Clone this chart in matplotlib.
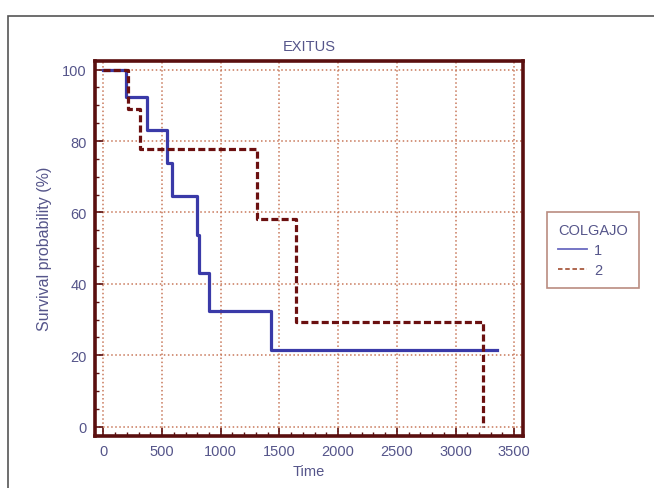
import matplotlib
matplotlib.use("Agg")
import matplotlib.pyplot as plt
from matplotlib.lines import Line2D
from matplotlib.ticker import MultipleLocator

plt.rcParams['font.family'] = ['Liberation Sans', 'DejaVu Sans']

# Kaplan-Meier steps
t_grp1 = [0, 191, 370, 545, 583, 795, 818, 903, 1426, 3351]
s_grp1 = [100, 92.3, 83.1, 73.8, 64.6, 53.8, 43.1, 32.3, 21.5, 21.5]
t_grp2 = [0, 213, 313, 1306, 1639, 3231]
s_grp2 = [100, 88.9, 77.8, 58.3, 29.2, 0]
group_names = ['1', '2']

xticks = [0, 500, 1000, 1500, 2000, 2500, 3000, 3500]
yticks = [0, 20, 40, 60, 80, 100]

txt_col = '#55558a'
frame_col = '#5a0f0f'
grid_col = '#c8785a'

fig = plt.figure(figsize=(6.54, 4.89), dpi=100)
# outer frame of the figure panel (partly cut off)
fig.add_artist(plt.Rectangle((8 / 654, -0.1), 1.2, 1 - 17 / 489 + 0.1,
                             transform=fig.transFigure, fill=False,
                             edgecolor='#555555', lw=1.2))

ax = fig.add_axes([0.1453, 0.1070, 0.6544, 0.7668])
ax.step(t_grp1, s_grp1, where='post', color='#3a3aa8', lw=2.3, zorder=3)
ax.step(t_grp2, s_grp2, where='post', color='#6b1010', lw=2.3,
        ls=(0, (2.2, 1.0)), zorder=4)

ax.set_xlim(-71, 3575)
ax.set_ylim(-2.5, 102.5)
ax.set_xticks(xticks)
ax.set_yticks(yticks)
ax.xaxis.set_minor_locator(MultipleLocator(100))
ax.yaxis.set_minor_locator(MultipleLocator(5))
ax.tick_params(which='both', direction='in', color=frame_col, labelcolor=txt_col,
               labelsize=10.5)
ax.tick_params(which='major', length=6, width=1.2, pad=6)
ax.tick_params(which='minor', length=3, width=1)
ax.grid(True, which='major', ls=':', color=grid_col, lw=1.1)
for sp in ax.spines.values():
    sp.set_color(frame_col)
    sp.set_linewidth(2.6)

ax.set_title('EXITUS', color=txt_col, fontsize=10.5, pad=8)
ax.set_xlabel('Time', color=txt_col, fontsize=10.5, labelpad=4)
ax.set_ylabel('Survival probability (%)', color=txt_col, fontsize=11.5, labelpad=7)

handles = [Line2D([], [], color='#6a6ac0', lw=1.3),
           Line2D([], [], color='#a85a40', lw=1.3, ls=(0, (2.5, 1.5)))]
leg = ax.legend(handles, group_names, title='COLGAJO', loc='upper left',
                bbox_to_anchor=(1.056, 0.5965), borderaxespad=0,
                frameon=True, fancybox=False,
                fontsize=10.5, title_fontsize=10.5, handlelength=2.0,
                handletextpad=0.5, labelspacing=0.4, borderpad=0.75)
leg.get_frame().set_edgecolor('#a87060')
leg.get_frame().set_linewidth(1.2)
leg.get_title().set_color(txt_col)
leg._legend_box.align = 'left'
for t in leg.get_texts():
    t.set_color(txt_col)

fig.savefig('out.png', dpi=100)
